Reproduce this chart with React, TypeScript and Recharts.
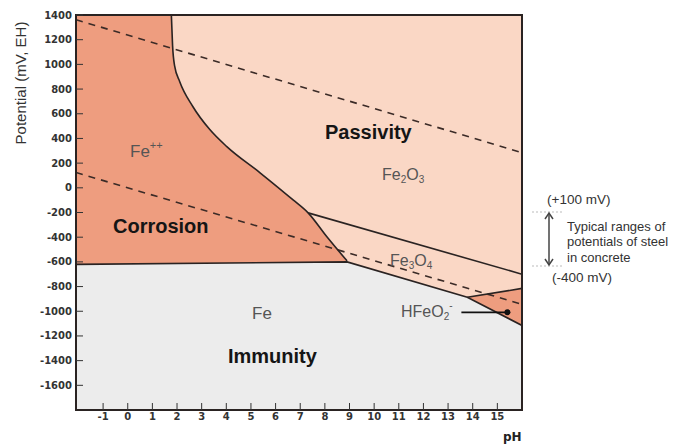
import React from "react";
import {
  ComposedChart,
  XAxis,
  YAxis,
  Area,
  Line,
  ReferenceArea,
  ReferenceLine,
  ReferenceDot,
} from "recharts";

// axis ticks
const phTicks = [-1, 0, 1, 2, 3, 4, 5, 6, 7, 8, 9, 10, 11, 12, 13, 14, 15];
const potentialTicks = [
  -1600, -1400, -1200, -1000, -800, -600, -400, -200, 0, 200, 400, 600, 800,
  1000, 1200, 1400,
];

// Fe++ / Fe2O3 / Fe3O4 boundary (pH, mV)
const ironIonEdge = [
  { ph: 1.77, mv: 1400 },
  { ph: 1.82, mv: 1150 },
  { ph: 1.9, mv: 990 },
  { ph: 2.11, mv: 860 },
  { ph: 2.64, mv: 659 },
  { ph: 3.33, mv: 472 },
  { ph: 4.02, mv: 334 },
  { ph: 5.37, mv: 122 },
  { ph: 6.71, mv: -98 },
  { ph: 7.32, mv: -203 },
  { ph: 8.09, mv: -399 },
  { ph: 8.9, mv: -592 },
];
const corrosionZone = [{ ph: -2.1, mv: 1400 }, ...ironIonEdge];

// Fe (immunity) upper boundary
const immunityEdge = [
  { ph: -2.1, mv: -620 },
  { ph: 8.9, mv: -600 },
  { ph: 13.78, mv: -887 },
  { ph: 16, mv: -1115 },
];

// Fe2O3 / Fe3O4
const magnetiteTop = [
  { ph: 7.32, mv: -203 },
  { ph: 16, mv: -700 },
];

// Fe3O4 / HFeO2-
const hfeo2Top = [
  { ph: 13.78, mv: -887 },
  { ph: 16, mv: -815 },
];

// water stability lines
const oxygenLine = [
  { ph: -2.1, mv: 1362 },
  { ph: 16, mv: 285 },
];
const hydrogenLine = [
  { ph: -2.1, mv: 124 },
  { ph: 16, mv: -944 },
];

const hfeo2Pointer = { from: 13.54, to: 15.41, mv: -1009 };

const X_MIN = -2.1;
const X_MAX = 16;
const Y_MIN = -1800;
const Y_MAX = 1400;

const colors = {
  corrosion: "#ee9d7f",
  passivity: "#fad7c5",
  immunity: "#ececec",
  edge: "#2a2322",
  dash: "#3b2b27",
};

const tickStyle = {
  fill: "#333",
  fontSize: 10,
  fontWeight: "bold" as const,
  fontFamily: "DejaVu Sans",
};

const labelFont = "Liberation Sans, Arial, sans-serif";

const Annotations = () => (
  <svg
    width={678}
    height={445}
    style={{ position: "absolute", left: 0, top: 0, pointerEvents: "none" }}
    fontFamily={labelFont}
  >
    <text
      transform="translate(26, 83) rotate(-90)"
      textAnchor="middle"
      fontSize={15}
      fill="#333"
    >
      Potential (mV, EH)
    </text>

    <text x={130} y={157} fontSize={17} fill="#555">
      Fe
      <tspan fontSize={11} dy={-8}>
        ++
      </tspan>
    </text>
    <text x={113} y={233} fontSize={20} fontWeight="bold" fill="#151515">
      Corrosion
    </text>
    <text x={325} y={139} fontSize={20} fontWeight="bold" fill="#151515">
      Passivity
    </text>
    <text x={382} y={180} fontSize={16} fill="#555">
      Fe<tspan fontSize={10} dy={3}>2</tspan>
      <tspan dy={-3}>O</tspan>
      <tspan fontSize={10} dy={3}>3</tspan>
    </text>
    <text x={390} y={266} fontSize={16} fill="#555">
      Fe<tspan fontSize={10} dy={3}>3</tspan>
      <tspan dy={-3}>O</tspan>
      <tspan fontSize={10} dy={3}>4</tspan>
    </text>
    <text x={252} y={319} fontSize={17} fill="#555">
      Fe
    </text>
    <text x={401} y={317} fontSize={16} fill="#555">
      HFeO<tspan fontSize={10} dy={3}>2</tspan>
      <tspan fontSize={10} dy={-11}>-</tspan>
    </text>
    <text x={228} y={363} fontSize={20} fontWeight="bold" fill="#151515">
      Immunity
    </text>

    <text x={547} y={204} fontSize={13.5} fill="#333">
      (+100 mV)
    </text>
    <line x1={532} y1={212} x2={562} y2={212} stroke="#bbb" strokeDasharray="2 2" />
    <line x1={532} y1={266} x2={562} y2={266} stroke="#bbb" strokeDasharray="2 2" />
    <line x1={549} y1={214} x2={549} y2={264} stroke="#444" strokeWidth={1.5} />
    <polyline points="545,219 549,213 553,219" fill="none" stroke="#444" strokeWidth={1.5} />
    <polyline points="545,259 549,265 553,259" fill="none" stroke="#444" strokeWidth={1.5} />
    <text x={567} y={231} fontSize={13} fill="#333">
      Typical ranges of
    </text>
    <text x={567} y={246} fontSize={13} fill="#333">
      potentials of steel
    </text>
    <text x={567} y={262} fontSize={13} fill="#333">
      in concrete
    </text>
    <text x={552} y={282} fontSize={13.5} fill="#333">
      (-400 mV)
    </text>

    <text x={503} y={441} fontSize={12} fontWeight="bold" fill="#222" fontFamily="DejaVu Sans">
      pH
    </text>
  </svg>
);

const App: React.FC = () => {
  return (
    <div style={{ position: "absolute", left: 0, top: 0, width: 678, height: 445 }}>
      <ComposedChart
        width={678}
        height={445}
        margin={{ top: 15, right: 156, bottom: 0, left: 0 }}
      >
        <XAxis
          type="number"
          dataKey="ph"
          domain={[X_MIN, X_MAX]}
          ticks={phTicks}
          allowDataOverflow
          height={35}
          tick={tickStyle}
          tickSize={-7}
          tickMargin={10}
          axisLine={{ stroke: colors.edge, strokeWidth: 2 }}
          tickLine={{ stroke: "#333" }}
        />
        <YAxis
          type="number"
          dataKey="mv"
          domain={[Y_MIN, Y_MAX]}
          ticks={potentialTicks}
          allowDataOverflow
          width={76}
          tick={tickStyle}
          tickSize={-7}
          tickMargin={11}
          axisLine={{ stroke: colors.edge, strokeWidth: 2 }}
          tickLine={{ stroke: "#333" }}
        />

        <ReferenceArea
          x1={X_MIN}
          x2={X_MAX}
          y1={Y_MIN}
          y2={Y_MAX}
          fill={colors.passivity}
          fillOpacity={1}
          stroke="none"
        />
        <Area
          data={corrosionZone}
          dataKey="mv"
          type="monotone"
          baseValue={Y_MIN}
          fill={colors.corrosion}
          fillOpacity={1}
          stroke="none"
          isAnimationActive={false}
        />
        <Area
          data={hfeo2Top}
          dataKey="mv"
          type="linear"
          baseValue={Y_MIN}
          fill={colors.corrosion}
          fillOpacity={1}
          stroke="none"
          isAnimationActive={false}
        />
        <Area
          data={immunityEdge}
          dataKey="mv"
          type="linear"
          baseValue={Y_MIN}
          fill={colors.immunity}
          fillOpacity={1}
          stroke="none"
          isAnimationActive={false}
        />

        <Line
          data={oxygenLine}
          dataKey="mv"
          type="linear"
          stroke={colors.dash}
          strokeWidth={1.6}
          strokeDasharray="7 6"
          dot={false}
          activeDot={false}
          isAnimationActive={false}
        />
        <Line
          data={hydrogenLine}
          dataKey="mv"
          type="linear"
          stroke={colors.dash}
          strokeWidth={1.6}
          strokeDasharray="7 6"
          dot={false}
          activeDot={false}
          isAnimationActive={false}
        />
        <Line
          data={ironIonEdge}
          dataKey="mv"
          type="monotone"
          stroke={colors.edge}
          strokeWidth={1.6}
          dot={false}
          activeDot={false}
          isAnimationActive={false}
        />
        <Line
          data={immunityEdge}
          dataKey="mv"
          type="linear"
          stroke={colors.edge}
          strokeWidth={1.6}
          dot={false}
          activeDot={false}
          isAnimationActive={false}
        />
        <Line
          data={magnetiteTop}
          dataKey="mv"
          type="linear"
          stroke={colors.edge}
          strokeWidth={1.6}
          dot={false}
          activeDot={false}
          isAnimationActive={false}
        />
        <Line
          data={hfeo2Top}
          dataKey="mv"
          type="linear"
          stroke={colors.edge}
          strokeWidth={1.6}
          dot={false}
          activeDot={false}
          isAnimationActive={false}
        />

        <ReferenceLine
          segment={[
            { x: hfeo2Pointer.from, y: hfeo2Pointer.mv },
            { x: hfeo2Pointer.to, y: hfeo2Pointer.mv },
          ]}
          stroke="#111"
          strokeWidth={1.6}
        />
        <ReferenceDot
          x={hfeo2Pointer.to}
          y={hfeo2Pointer.mv}
          r={3}
          fill="#111"
          stroke="none"
        />

        <ReferenceArea
          x1={X_MIN}
          x2={X_MAX}
          y1={Y_MIN}
          y2={Y_MAX}
          fill="none"
          stroke={colors.edge}
          strokeWidth={2}
        />
      </ComposedChart>
      <Annotations />
    </div>
  );
};

export default App;
